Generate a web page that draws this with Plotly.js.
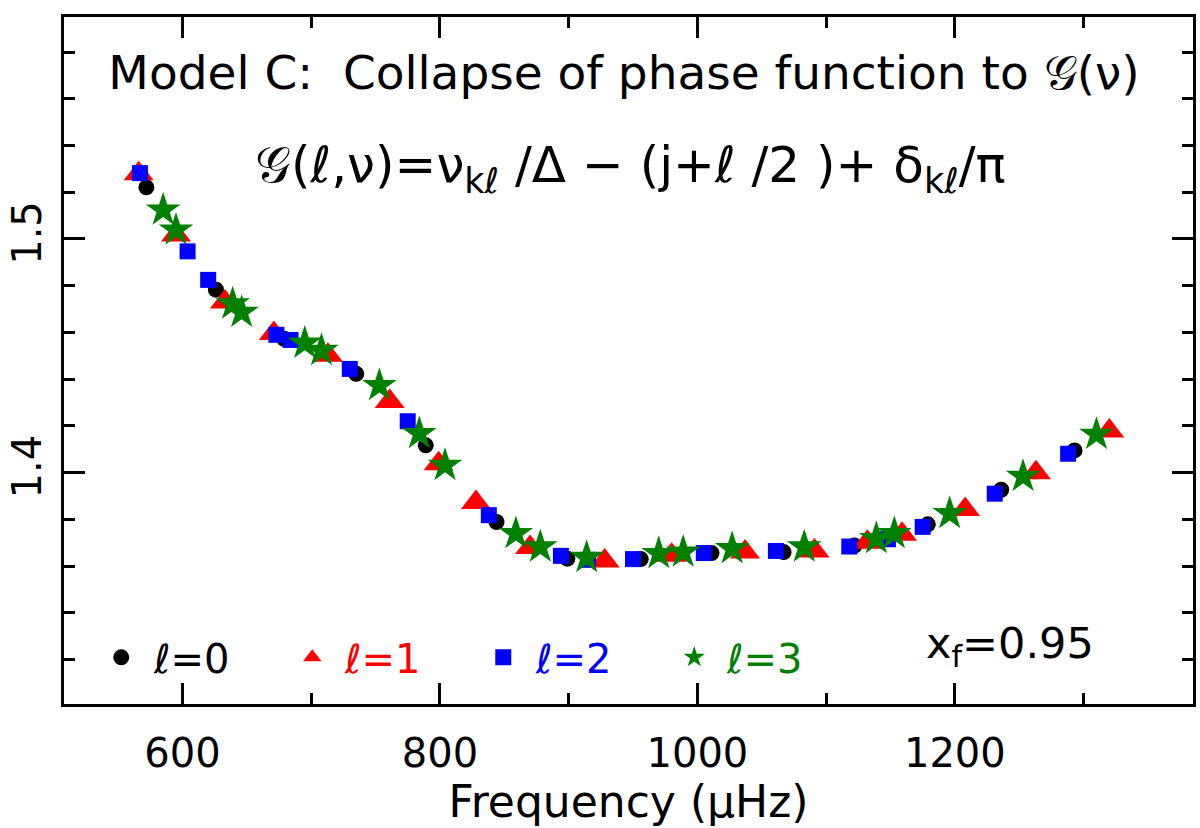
<!DOCTYPE html>
<html>
<head>
<meta charset="utf-8">
<script src="https://cdn.plot.ly/plotly-3.0.1.min.js"></script>
<style>html,body{margin:0;padding:0;background:#fff;}#chart{width:1200px;height:828px;}</style>
</head>
<body>
<div id="chart"></div>
<script>
// l = 0 (black circles)
const l0Freq = [572, 626, 679, 735, 789, 844, 899, 956, 1011, 1067, 1122, 1179, 1236, 1293];
const l0G    = [1.5221, 1.4783, 1.4573, 1.4423, 1.4117, 1.3789, 1.3632, 1.3630, 1.3656, 1.3660, 1.3688, 1.3779, 1.3927, 1.4095];
// l = 1 (red triangles)
const l1Freq = [566, 595, 633, 671, 713, 761, 799, 828, 870, 928, 980, 1037, 1091, 1132, 1159, 1208, 1263, 1320];
const l1G    = [1.5279, 1.5017, 1.4730, 1.4596, 1.4503, 1.4305, 1.4038, 1.3872, 1.3680, 1.3622, 1.3647, 1.3660, 1.3665, 1.3702, 1.3736, 1.3842, 1.4000, 1.4178];
// l = 2 (blue squares)
const l2Freq = [567, 604, 620, 673, 684, 730, 775, 838, 894, 915, 950, 1005, 1061, 1118, 1148, 1175, 1231, 1288];
const l2G    = [1.5282, 1.4947, 1.4825, 1.4590, 1.4568, 1.4444, 1.4220, 1.3818, 1.3644, 1.3627, 1.3630, 1.3656, 1.3665, 1.3684, 1.3715, 1.3768, 1.3910, 1.4081];
// l = 3 (green stars)
const l3Freq = [585, 595, 639, 646, 695, 708, 753, 784, 804, 859, 878, 914, 970, 989, 1027, 1083, 1139, 1153, 1196, 1253, 1310];
const l3G    = [1.5124, 1.5038, 1.4722, 1.4686, 1.4554, 1.4523, 1.4373, 1.4167, 1.4031, 1.3739, 1.3682, 1.3637, 1.3654, 1.3660, 1.3675, 1.3682, 1.3718, 1.3739, 1.3825, 1.3984, 1.4164];

const seriesNames = ['ℓ=0', 'ℓ=1', 'ℓ=2', 'ℓ=3'];
const xTickVals = [600, 800, 1000, 1200];
const yTickVals = [1.4, 1.5];

const FONT = 'DejaVu Sans, sans-serif';

function mk(x, y, name, color, symbol, size) {
  return {
    x: x, y: y, type: 'scatter', mode: 'markers',
    name: ' <span style="color:' + color + '">' + name + '</span>',
    marker: {color: color, symbol: symbol, size: size, line: {width: 0}},
    hoverinfo: 'x+y'
  };
}

const data = [
  mk(l0Freq, l0G, seriesNames[0], 'black', 'circle', 16),
  mk(l1Freq, l1G, seriesNames[1], '#ff0000', 'triangle-up', 26),
  mk(l2Freq, l2G, seriesNames[2], '#0000ff', 'square', 16),
  mk(l3Freq, l3G, seriesNames[3], '#008000', 'star', 26)
];

const axisCommon = {
  showline: true, linecolor: 'black', linewidth: 3, mirror: 'ticks',
  ticks: 'inside', tickcolor: 'black', tickwidth: 3, ticklen: 21,
  showgrid: false, zeroline: false,
  tickfont: {family: FONT, size: 40, color: 'black'}
};

const layout = {
  width: 1200, height: 828,
  paper_bgcolor: 'white', plot_bgcolor: 'white',
  margin: {l: 64, r: 7, t: 17, b: 124},
  showlegend: true,
  legend: {
    orientation: 'h', x: 0.033, y: 0.068, xanchor: 'left', yanchor: 'middle',
    font: {family: FONT, size: 40, color: 'black'},
    entrywidth: 146, entrywidthmode: 'pixels',
    bgcolor: 'rgba(0,0,0,0)', borderwidth: 0, itemclick: false
  },
  title: {
    text: 'Model C:  Collapse of phase function to 𝒢(ν)',
    font: {family: FONT, size: 47, color: 'black'},
    x: 0.496, xanchor: 'center', xref: 'paper',
    y: 0.912, yanchor: 'middle', yref: 'container'
  },
  xaxis: Object.assign({}, axisCommon, {
    range: [508, 1385],
    tickmode: 'array', tickvals: xTickVals, ticktext: xTickVals.map(String),
    minor: {dtick: 100, tick0: 0, ticks: 'inside', ticklen: 11, tickwidth: 3, tickcolor: 'black'},
    ticklabelstandoff: 12,
    title: {text: 'Frequency (μHz)', font: {family: FONT, size: 44, color: 'black'}, standoff: 2}
  }),
  yaxis: Object.assign({}, axisCommon, {
    range: [1.301, 1.595],
    tickmode: 'array', tickvals: yTickVals, ticktext: yTickVals.map(v => v.toFixed(1)),
    tickangle: -90,
    minor: {dtick: 0.02, tick0: 0, ticks: 'inside', ticklen: 11, tickwidth: 3, tickcolor: 'black'},
    ticklabelstandoff: 4
  }),
  annotations: [
    {
      xref: 'paper', yref: 'paper', x: 0.502, y: 0.78, xanchor: 'center', yanchor: 'middle',
      text: '𝒢(ℓ,ν)=ν<sub>kℓ</sub> /Δ − (j+ℓ /2 )+ δ<sub>kℓ</sub>/π',
      showarrow: false, font: {family: FONT, size: 50, color: 'black'}
    },
    {
      xref: 'paper', yref: 'paper', x: 0.762, y: 0.085, xanchor: 'left', yanchor: 'middle',
      text: 'x<sub>f</sub>=0.95',
      showarrow: false, font: {family: FONT, size: 43, color: 'black'}
    }
  ]
};

Plotly.newPlot('chart', data, layout, {staticPlot: true, displayModeBar: false});
</script>
</body>
</html>
